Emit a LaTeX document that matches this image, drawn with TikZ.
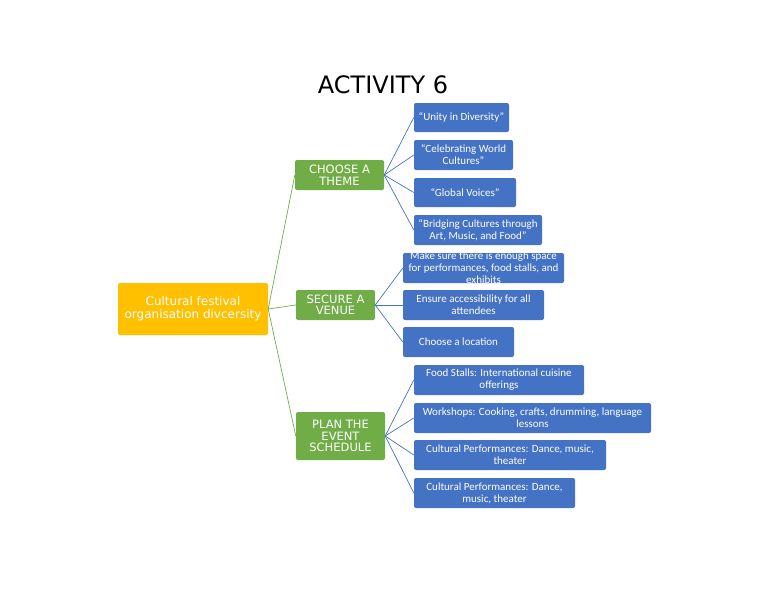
\documentclass[tikz,border=0pt]{standalone}
\usepackage{fontspec}
\setmainfont{DejaVu Sans}
\newfontfamily\myCal{Carlito}
\begin{document}
\begin{tikzpicture}[x=1pt,y=-1pt,
 base/.style={rectangle,rounded corners=2pt,text=white,align=center,inner sep=1pt},
 root/.style={base,fill=yellowc,font=\fontsize{12}{13}\selectfont},
 grn/.style={base,fill=greenc,font=\fontsize{11.5}{11.5}\selectfont},
 blu/.style={base,fill=bluec,font=\myCal\fontsize{11}{12}\selectfont},
 gl/.style={draw=greenc,line width=0.7pt},
 bl/.style={draw=bluec,line width=0.7pt}]
\definecolor{yellowc}{HTML}{FFC000}
\definecolor{greenc}{HTML}{70AD47}
\definecolor{bluec}{HTML}{4472C4}
\useasboundingbox (0,0) rectangle (768,594);
\node[font=\fontsize{24}{26}\selectfont] (title) at (383,85) {ACTIVITY 6};
\node[root,minimum width=150,minimum height=52] (r) at (193,309) {Cultural festival\\organisation divcersity};
\node[grn,minimum width=89,minimum height=30] (g1) at (339.5,175) {CHOOSE A\\THEME};
\node[grn,minimum width=79,minimum height=30] (g2) at (335.5,305) {SECURE A\\VENUE};
\node[grn,minimum width=89,minimum height=48] (g3) at (340.5,436) {PLAN THE\\EVENT\\SCHEDULE};
\node[blu,minimum width=95,minimum height=29] (t1) at (461.5,117.5) {“Unity in Diversity”};
\node[blu,minimum width=99,minimum height=30] (t2) at (463.5,155) {“Celebrating World\\Cultures”};
\node[blu,minimum width=102,minimum height=29] (t3) at (465,192.5) {“Global Voices”};
\node[blu,minimum width=128,minimum height=30] (t4) at (478,230) {“Bridging Cultures through\\Art, Music, and Food”};
\node[blu,minimum width=161,minimum height=30] (v1) at (483.5,268) {};
\node[font=\myCal\fontsize{11}{12}\selectfont,text=white,align=center] (v1t) at (483.5,268) {Make sure there is enough space\\for performances, food stalls, and\\exhibits};
\node[blu,minimum width=141,minimum height=30] (v2) at (473.5,305) {Ensure accessibility for all\\attendees};
\node[blu,minimum width=111,minimum height=30] (v3) at (458.5,342) {Choose a location};
\node[blu,minimum width=170,minimum height=30] (p1) at (499,380) {Food Stalls: International cuisine\\offerings};
\node[blu,minimum width=237,minimum height=30] (p2) at (532.5,418) {Workshops: Cooking, crafts, drumming, language\\lessons};
\node[blu,minimum width=192,minimum height=30] (p3) at (510,455) {Cultural Performances: Dance, music,\\theater};
\node[blu,minimum width=161,minimum height=30] (p4) at (494.5,493) {Cultural Performances: Dance,\\music, theater};
\foreach \g in {g1,g2,g3} \draw[gl] (r.east) -- (\g.west);
\foreach \b in {t1,t2,t3,t4} \draw[bl] (g1.east) -- (\b.west);
\foreach \b in {v1,v2,v3} \draw[bl] (g2.east) -- (\b.west);
\foreach \b in {p1,p2,p3,p4} \draw[bl] (g3.east) -- (\b.west);
\end{tikzpicture}
\end{document}
